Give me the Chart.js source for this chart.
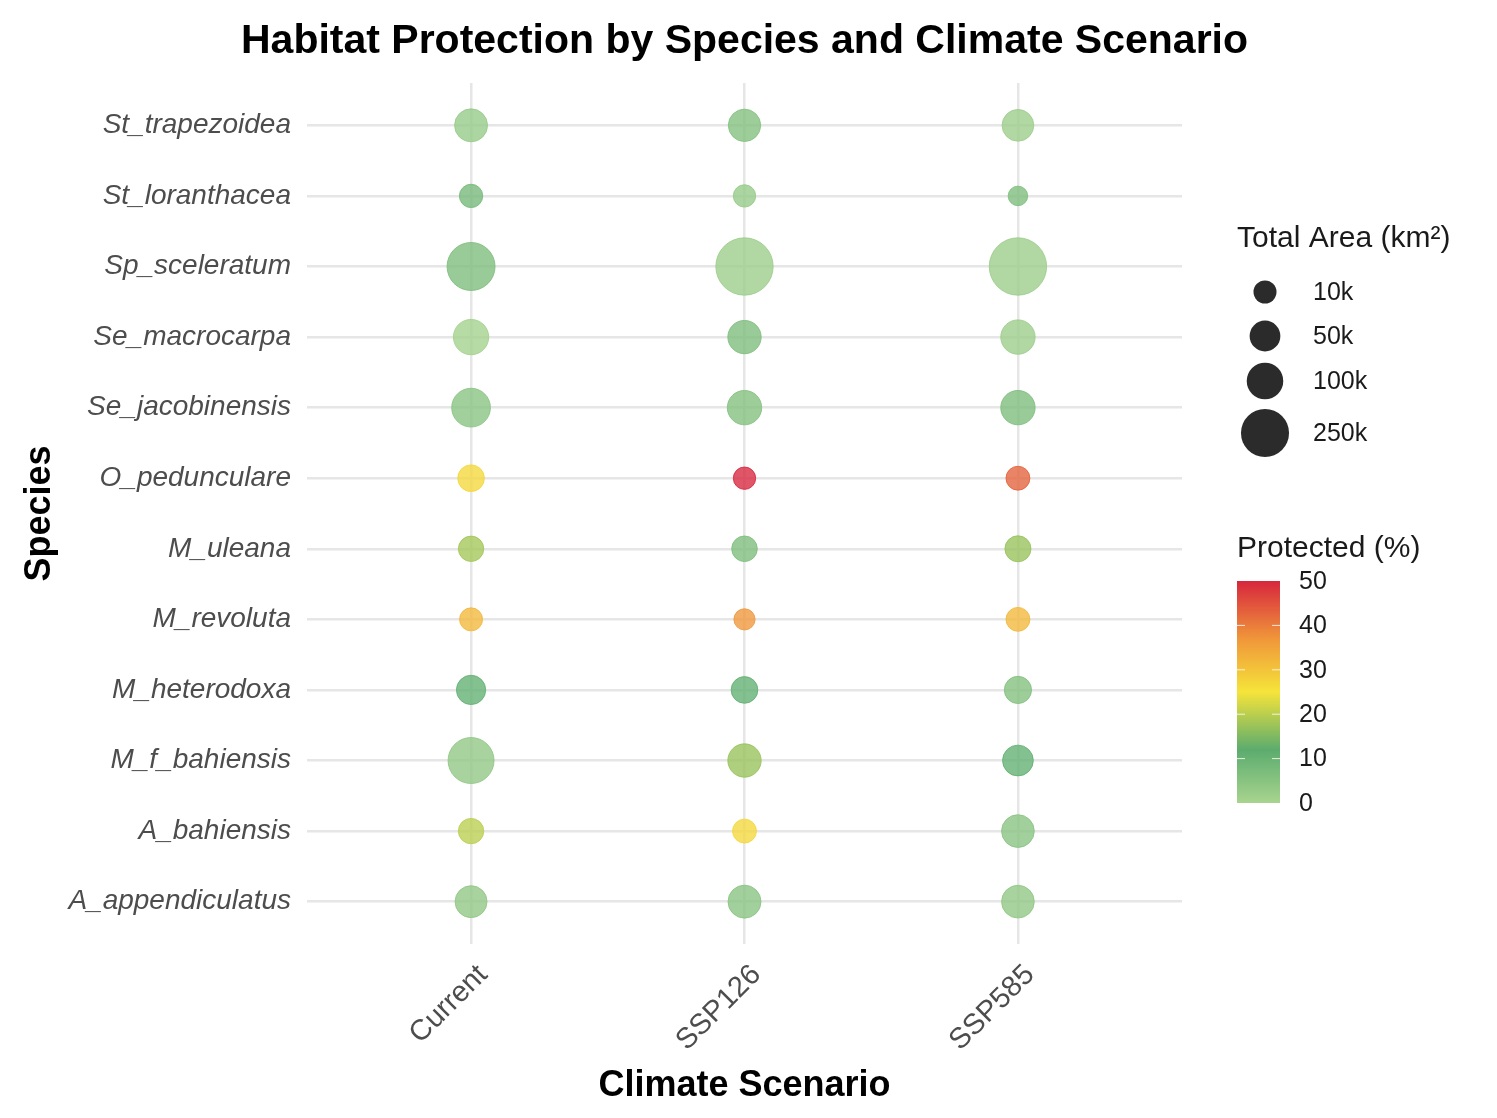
<!DOCTYPE html>
<html>
<head>
<meta charset="utf-8">
<title>Habitat Protection by Species and Climate Scenario</title>
<script src="https://cdn.jsdelivr.net/npm/chart.js@4.4.1/dist/chart.umd.min.js"></script>
<style>
  html, body { margin: 0; padding: 0; background: #ffffff; }
  #chart { display: block; }
</style>
</head>
<body>
<canvas id="chart" width="1497" height="1118"></canvas>
<script>
'use strict';

// climate scenarios along x, species along y (bottom to top)
const scenarios = ['Current', 'SSP126', 'SSP585'];
const species = ['A_appendiculatus', 'A_bahiensis', 'M_f_bahiensis', 'M_heterodoxa', 'M_revoluta', 'M_uleana',
  'O_pedunculare', 'Se_jacobinensis', 'Se_macrocarpa', 'Sp_sceleratum', 'St_loranthacea', 'St_trapezoidea'];

// total habitat area, thousand km², in species order
const areaCurrent = [59, 19, 218, 40, 10, 19, 25, 123, 88, 249, 11, 67];
const areaSSP126 = [67, 13, 70, 25, 5, 20, 8, 79, 70, 420, 8, 62];
const areaSSP585 = [65, 65, 50, 28, 13, 22, 13, 79, 79, 420, 2, 57];

// share of that area that is protected, %
const protCurrent = [4, 20, 4, 11, 32, 18, 27, 5, 1, 7, 8, 3];
const protSSP126 = [5, 27, 17, 11, 37, 7, 50, 6, 7, 2, 3, 6];
const protSSP585 = [4, 5, 11, 6, 32, 17, 43, 7, 2, 2, 7, 2];

// legend breaks
const sizeBreaks = [10, 50, 100, 250];
const sizeBreakLabels = ['10k', '50k', '100k', '250k'];
const colorBreaks = [0, 10, 20, 30, 40, 50];

const areaByScenario = [areaCurrent, areaSSP126, areaSSP585];
const protByScenario = [protCurrent, protSSP126, protSSP585];

const FONT = '"Liberation Sans", Arial, Helvetica, sans-serif';
const TITLE = 'Habitat Protection by Species and Climate Scenario';

// colour ramp for protected %
const rampStops = [
  [0, [168, 212, 142]],
  [12, [92, 172, 110]],
  [25, [245, 228, 58]],
  [37, [240, 150, 58]],
  [50, [215, 38, 61]]
];

function rampColor(v, alpha) {
  let c = rampStops[rampStops.length - 1][1];
  for (let i = 0; i < rampStops.length - 1; i++) {
    const [a, ca] = rampStops[i];
    const [b, cb] = rampStops[i + 1];
    if (v <= b) {
      const t = Math.max(0, (v - a) / (b - a));
      c = ca.map((x, k) => Math.round(x + (cb[k] - x) * t));
      break;
    }
  }
  return `rgba(${c[0]}, ${c[1]}, ${c[2]}, ${alpha})`;
}

// bubble radius in px, area-scaled (diameter grows with sqrt of area)
function radiusFor(area) {
  return (16.75 + 1.98 * Math.sqrt(area)) / 2;
}

const points = [];
scenarios.forEach((sc, i) => {
  species.forEach((sp, j) => {
    points.push({
      x: i,
      y: j,
      r: radiusFor(areaByScenario[i][j]),
      prot: protByScenario[i][j]
    });
  });
});

// title centred over the plot panel, plus the size and colour legends
const panelDecor = {
  id: 'panelDecor',
  afterDraw(chart) {
    const ctx = chart.ctx;
    const area = chart.chartArea;
    const left = area.right + 55;
    ctx.save();
    ctx.textBaseline = 'middle';

    ctx.textAlign = 'center';
    ctx.fillStyle = '#000000';
    ctx.font = 'bold 41px ' + FONT;
    ctx.fillText(TITLE, (area.left + area.right) / 2, 42);

    ctx.textAlign = 'left';

    // size legend
    ctx.fillStyle = '#1a1a1a';
    ctx.font = '30px ' + FONT;
    ctx.fillText('Total Area (km²)', left, 239);
    const keyY = [292, 336, 381, 433];
    ctx.font = '25px ' + FONT;
    sizeBreaks.forEach((v, i) => {
      ctx.beginPath();
      ctx.arc(left + 28, keyY[i], radiusFor(v), 0, Math.PI * 2);
      ctx.fillStyle = 'rgba(20, 20, 20, 0.9)';
      ctx.fill();
      ctx.fillStyle = '#1a1a1a';
      ctx.fillText(sizeBreakLabels[i], left + 76, keyY[i] + 1);
    });

    // colour bar
    ctx.font = '30px ' + FONT;
    ctx.fillText('Protected (%)', left, 549);
    const barX = left, barW = 43, barTop = 581, barBottom = 803;
    const grad = ctx.createLinearGradient(0, barBottom, 0, barTop);
    for (let v = 0; v <= 50; v += 1) {
      grad.addColorStop(v / 50, rampColor(v, 1));
    }
    ctx.fillStyle = grad;
    ctx.fillRect(barX, barTop, barW, barBottom - barTop);
    ctx.font = '25px ' + FONT;
    colorBreaks.forEach(v => {
      const y = barBottom - (v / 50) * (barBottom - barTop);
      if (v > 0 && v < 50) {
        ctx.strokeStyle = 'rgba(255, 255, 255, 0.8)';
        ctx.lineWidth = 1;
        ctx.beginPath();
        ctx.moveTo(barX, y); ctx.lineTo(barX + 8, y);
        ctx.moveTo(barX + barW - 8, y); ctx.lineTo(barX + barW, y);
        ctx.stroke();
      }
      ctx.fillStyle = '#1a1a1a';
      ctx.fillText(String(v), barX + 62, y + 1);
    });
    ctx.restore();
  }
};

new Chart(document.getElementById('chart'), {
  type: 'bubble',
  data: {
    datasets: [{
      data: points,
      backgroundColor: ctx => rampColor(ctx.raw.prot, 0.78),
      borderColor: ctx => rampColor(ctx.raw.prot, 0.85),
      borderWidth: 1
    }]
  },
  options: {
    responsive: false,
    animation: false,
    events: [],
    layout: { padding: { left: 18, right: 315, top: 83, bottom: 10 } },
    plugins: {
      legend: { display: false },
      tooltip: { enabled: false },
      title: { display: false }
    },
    scales: {
      x: {
        type: 'linear',
        min: -0.6,
        max: 2.6,
        afterBuildTicks: scale => { scale.ticks = scenarios.map((_, i) => ({ value: i })); },
        afterFit: scale => { scale.height = 1118 - 944 - 10; },
        ticks: {
          callback: v => scenarios[v],
          minRotation: 45,
          maxRotation: 45,
          padding: 14,
          labelOffset: 12,
          color: '#4d4d4d',
          font: { family: FONT, size: 29 }
        },
        grid: { color: '#e6e6e6', lineWidth: 2.5, drawTicks: false },
        border: { display: false },
        title: {
          display: true,
          text: 'Climate Scenario',
          color: '#000000',
          font: { family: FONT, size: 36, weight: 'bold' },
          padding: { top: 0, bottom: 0 }
        }
      },
      y: {
        type: 'linear',
        min: -0.6,
        max: 11.6,
        afterBuildTicks: scale => { scale.ticks = species.map((_, i) => ({ value: i })); },
        afterFit: scale => { scale.width = 307 - 18; },
        ticks: {
          callback: v => species[v],
          padding: 16,
          color: '#4d4d4d',
          font: { family: FONT, size: 28, style: 'italic' }
        },
        grid: { color: '#e6e6e6', lineWidth: 2.5, drawTicks: false },
        border: { display: false },
        title: {
          display: true,
          text: 'Species',
          color: '#000000',
          font: { family: FONT, size: 36, weight: 'bold' },
          padding: { top: 0, bottom: 0 }
        }
      }
    }
  },
  plugins: [panelDecor]
});
</script>
</body>
</html>
